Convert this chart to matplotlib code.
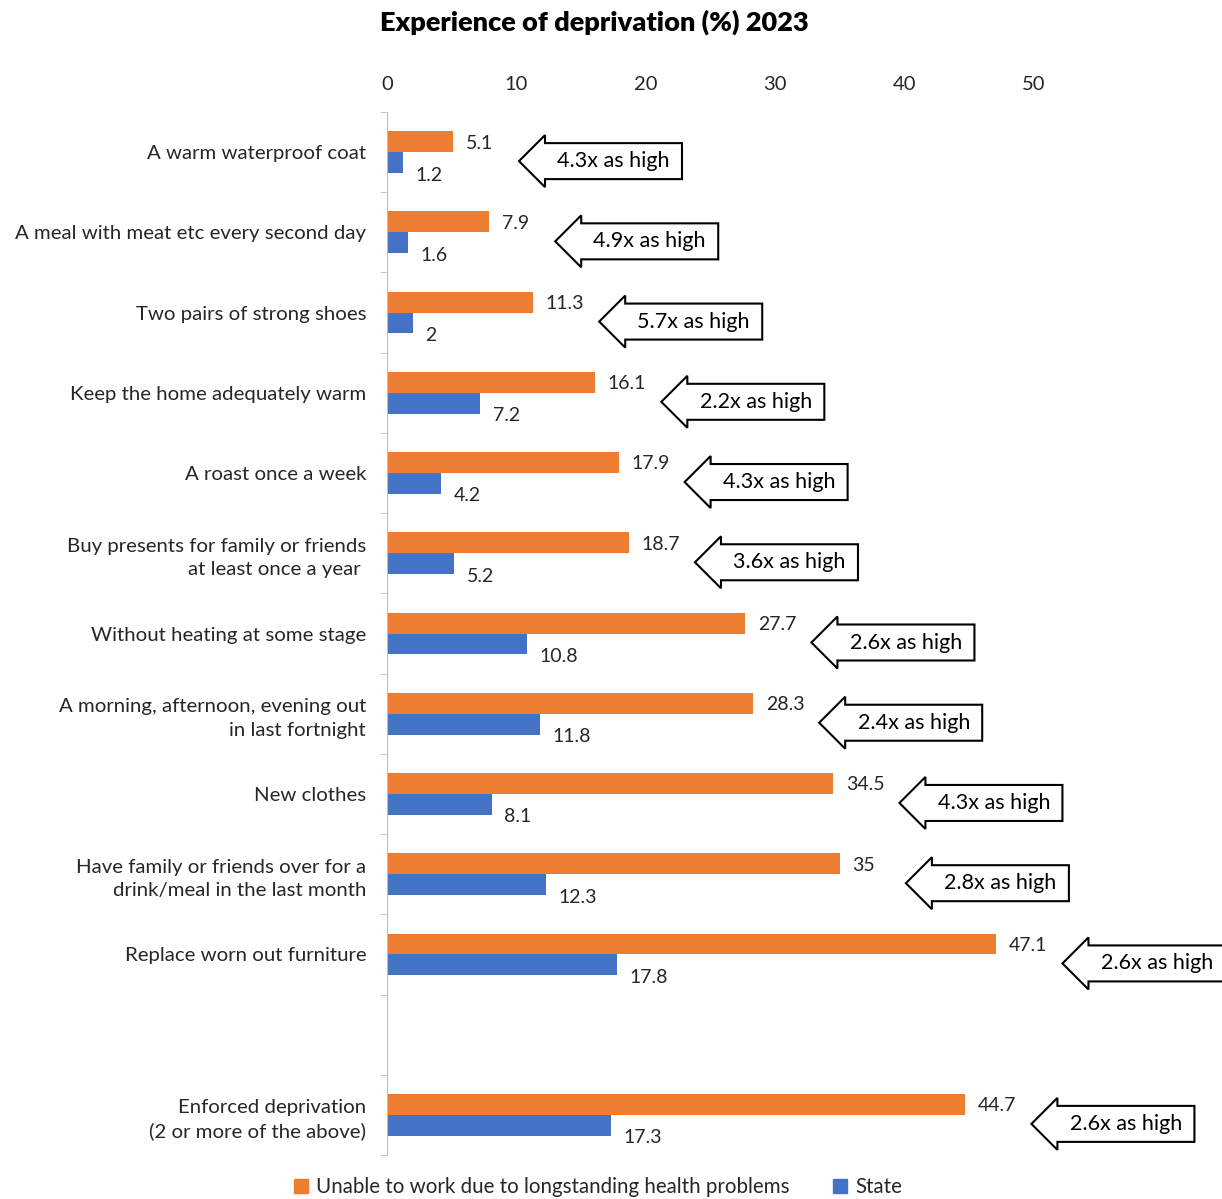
import numpy as np
import matplotlib
matplotlib.use('Agg')
import matplotlib.pyplot as plt
from matplotlib.patches import Polygon, Patch

plt.rcParams['font.family'] = ['Lato', 'DejaVu Sans']

categories = [
    'A warm waterproof coat',
    'A meal with meat etc every second day',
    'Two pairs of strong shoes',
    'Keep the home adequately warm',
    'A roast once a week',
    'Buy presents for family or friends\nat least once a year ',
    'Without heating at some stage',
    'A morning, afternoon, evening out\nin last fortnight',
    'New clothes',
    'Have family or friends over for a\ndrink/meal in the last month',
    'Replace worn out furniture',
    'Enforced deprivation\n(2 or more of the above)',
]
unable_to_work = [5.1, 7.9, 11.3, 16.1, 17.9, 18.7, 27.7, 28.3, 34.5, 35, 47.1, 44.7]
state = [1.2, 1.6, 2, 7.2, 4.2, 5.2, 10.8, 11.8, 8.1, 12.3, 17.8, 17.3]
ratio_labels = ['4.3x', '4.9x', '5.7x', '2.2x', '4.3x', '3.6x',
                '2.6x', '2.4x', '4.3x', '2.8x', '2.6x', '2.6x']
xticks = [0, 10, 20, 30, 40, 50]

orange = '#ED7D31'
blue = '#4472C4'

W, H = 1222, 1199
fig = plt.figure(figsize=(W / 100, H / 100), dpi=100)
ax_l, ax_r, ax_t, ax_b = 387, 1034, 112, 1155
ax = fig.add_axes([ax_l / W, 1 - ax_b / H, (ax_r - ax_l) / W, (ax_b - ax_t) / H])

# one empty slot before the summary row
pos = np.arange(len(categories), dtype=float)
pos[-1] += 1
n_slots = int(pos[-1]) + 1

bh = 0.26
ax.barh(pos - bh / 2, unable_to_work, height=bh, color=orange)
ax.barh(pos + bh / 2, state, height=bh, color=blue)

ax.set_xlim(0, 50)
ax.set_ylim(n_slots - 0.5, -0.5)

ax.set_xticks(xticks)
ax.tick_params(axis='x', top=True, labeltop=True, bottom=False, labelbottom=False,
               length=0, pad=14, labelsize=14.5, labelcolor='#262626')
ax.set_yticks(pos)
ax.set_yticklabels(categories, fontsize=14.7, color='#262626', linespacing=1.45)
ax.tick_params(axis='y', which='major', length=0, pad=15)
ax.set_yticks(np.arange(n_slots + 1) - 0.5, minor=True)
ax.tick_params(axis='y', which='minor', length=5, color='#BFBFBF')

for s in ['top', 'right', 'bottom']:
    ax.spines[s].set_visible(False)
ax.spines['left'].set_color('#BFBFBF')

for y, v in zip(pos, unable_to_work):
    ax.annotate(f'{v:g}', (v, y - bh / 2), xytext=(9, -1), textcoords='offset points',
                va='center', ha='left', fontsize=14, color='#262626')
for y, v in zip(pos, state):
    ax.annotate(f'{v:g}', (v, y + bh / 2), xytext=(9, -9), textcoords='offset points',
                va='center', ha='left', fontsize=14, color='#262626')

# block arrows with ratio text
ux = 50 / (ax_r - ax_l)        # data units per pixel
uy = n_slots / (ax_b - ax_t)
aw, hl, bh2, hh2 = 163, 26, 18, 26
for y, v, r in zip(pos, unable_to_work, ratio_labels):
    tip = v + 66 * ux
    yc = y + 9 * uy
    pts = [(tip, yc),
           (tip + hl * ux, yc - hh2 * uy),
           (tip + hl * ux, yc - bh2 * uy),
           (tip + aw * ux, yc - bh2 * uy),
           (tip + aw * ux, yc + bh2 * uy),
           (tip + hl * ux, yc + bh2 * uy),
           (tip + hl * ux, yc + hh2 * uy)]
    ax.add_patch(Polygon(pts, closed=True, facecolor='white', edgecolor='black',
                         lw=1.5, clip_on=False, zorder=5))
    ax.text(tip + (hl + (aw - hl) / 2) * ux, yc, f'{r} as high', ha='center', va='center',
            fontsize=15.5, color='black', zorder=6, clip_on=False)

fig.text(594 / W, 1 - 22 / H, 'Experience of deprivation (%) 2023', ha='center', va='center',
         fontsize=19.5, fontweight='heavy')

handles = [Patch(color=orange), Patch(color=blue)]
fig.legend(handles, ['Unable to work due to longstanding health problems', 'State'],
           loc='center', bbox_to_anchor=(598 / W, 1 - 1187 / H), ncol=2, frameon=False,
           fontsize=14.8, handlelength=0.7, handleheight=0.7, handletextpad=0.4,
           columnspacing=2.1, labelcolor='#262626')

fig.savefig('out.png', dpi=100)
